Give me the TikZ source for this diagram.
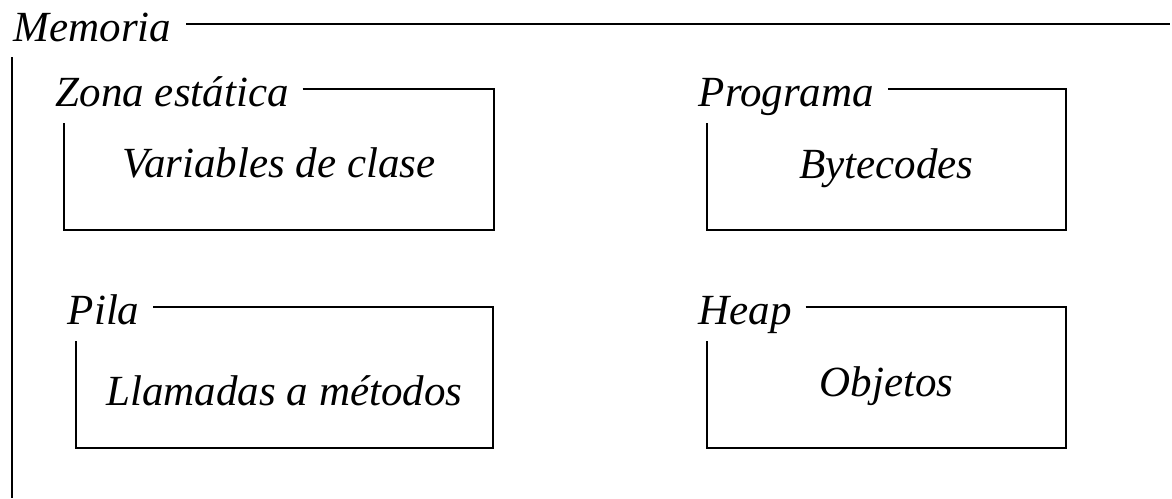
\documentclass[tikz,border=0pt]{standalone}
\usepackage{fontspec}
\setmainfont{Liberation Serif}
\usetikzlibrary{positioning}
\tikzset{titulo/.style = {anchor = base west, inner sep = 0, font = \fontsize{21.5}{26}\selectfont\itshape},
         contenido/.style = {anchor = base, inner sep = 0, font = \fontsize{21.5}{26}\selectfont\itshape}}

\begin{document}
\begin{tikzpicture}[x=0.5pt, y=-0.5pt, line width=0.8pt]
    \useasboundingbox (0, 0) rectangle (1172, 498);
    % memoria
    \node [titulo] (memoria) at (13, 41) {Memoria};
    \draw (memoria.base east) ++(14, -17) coordinate (memoriaA) -- (1170, 24);
    \coordinate (memoriaB) at (12, 57);
    \draw (memoriaB) -- (12, 498);
    % zonas
    \foreach \nombre/\titulo/\texto/\izq/\der/\arr/\base in {
      estatica/Zona estática/Variables de clase/55/494/106/177,
      programa/Programa/Bytecodes/698/1066/106/178,
      pila/Pila/Llamadas a métodos/67/493/324/405,
      heap/Heap/Objetos/698/1066/324/396}{
      \node [titulo] (\nombre) at (\izq, \arr) {\titulo};
      \draw (\nombre.base east) ++(13, -17) -| (\der, \arr + 124) -| (\izq + 9, \arr + 17);
      \node [contenido] (\nombre-texto) at ({(\izq + 9 + \der)/2}, \base) {\texto};
    }
  \end{tikzpicture}
\end{document}
